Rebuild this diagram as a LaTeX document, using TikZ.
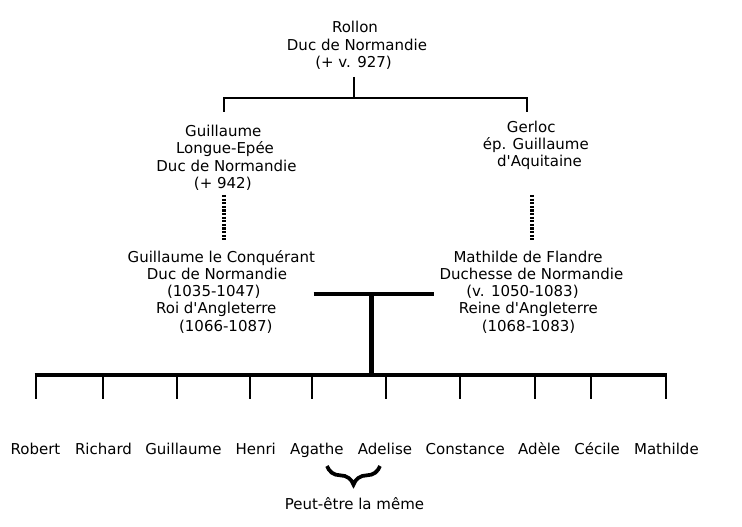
\documentclass[tikz,border=0pt]{standalone}
\usepackage{fontspec}
\setmainfont{DejaVu Sans}
\usetikzlibrary{decorations.pathreplacing}
\begin{document}
\begin{tikzpicture}[x=0.75pt,y=-0.75pt,
  lbl/.style={anchor=base,inner sep=0pt,font=\fontsize{11.25pt}{13pt}\selectfont},
  thin line/.style={line width=1.5pt},
  thick bar/.style={line width=3pt},
  dots line/.style={line width=2.4pt,dash pattern=on 1.7pt off 1pt}]
\useasboundingbox (0,0) rectangle (742,527);
% Rollon
\node[lbl] (r1) at (355,33) {Rollon};
\node[lbl] (r2) at (357,50.5) {Duc de Normandie};
\node[lbl] (r3) at (353.5,68) {(+ v. 927)};
% Guillaume Longue-Epee
\node[lbl] (g1) at (223.3,136.7) {Guillaume};
\node[lbl] (g2) at (225,154) {Longue-Epée};
\node[lbl] (g3) at (226.5,171.2) {Duc de Normandie};
\node[lbl] (g4) at (222.8,188.4) {(+ 942)};
% Gerloc
\node[lbl] (e1) at (531.2,132.3) {Gerloc};
\node[lbl] (e2) at (535.8,149.4) {ép. Guillaume};
\node[lbl] (e3) at (539.5,166.6) {d\textquotesingle Aquitaine};
% Guillaume le Conquerant
\node[lbl] (c1) at (221.3,262.3) {Guillaume le Conquérant};
\node[lbl] (c2) at (217,279.5) {Duc de Normandie};
\node[lbl] (c3) at (213.8,296.7) {(1035-1047)};
\node[lbl] (c4) at (216.2,313.9) {Roi d\textquotesingle Angleterre};
\node[lbl] (c5) at (225.8,331.1) {(1066-1087)};
% Mathilde
\node[lbl] (m1) at (528,262.3) {Mathilde de Flandre};
\node[lbl] (m2) at (531.5,279.5) {Duchesse de Normandie};
\node[lbl] (m3) at (522.5,296.7) {(v. 1050-1083)};
\node[lbl] (m4) at (528.3,313.9) {Reine d\textquotesingle Angleterre};
\node[lbl] (m5) at (528.5,331.1) {(1068-1083)};
% children
\node[lbl] (k1) at (35.5,454.3) {Robert};
\node[lbl] (k2) at (103.5,454.3) {Richard};
\node[lbl] (k3) at (183.4,454.3) {Guillaume};
\node[lbl] (k4) at (255.7,454.3) {Henri};
\node[lbl] (k5) at (316.8,454.3) {Agathe};
\node[lbl] (k6) at (385,454.3) {Adelise};
\node[lbl] (k7) at (465.2,454.3) {Constance};
\node[lbl] (k8) at (539.3,454.3) {Adèle};
\node[lbl] (k9) at (597.2,454.3) {Cécile};
\node[lbl] (k10) at (666.4,454.3) {Mathilde};
\node[lbl] (pm) at (354.5,509) {Peut-être la même};
% coordinates for connectors
\coordinate (rtop) at (354,77);
\coordinate (rj) at (354,98);
\coordinate (gl) at (224,98);
\coordinate (gr) at (527,98);
\coordinate (gld) at (224,112);
\coordinate (grd) at (527,112);
\coordinate (d1a) at (224,195);
\coordinate (d1b) at (224,241);
\coordinate (d2a) at (532,195);
\coordinate (d2b) at (532,241);
\coordinate (ml) at (313.5,293.5);
\coordinate (mr) at (433.5,293.5);
\coordinate (mc) at (371.5,293.5);
\coordinate (mb) at (371.5,375);
\coordinate (bl) at (34.5,375);
\coordinate (br) at (666.5,375);
% connectors
\draw[thin line] (rtop) -- (rj);
\draw[thin line] (gld) -- (gl) -- (gr) -- (grd);
\draw[dots line] (d1a) -- (d1b);
\draw[dots line] (d2a) -- (d2b);
\draw[thick bar] (ml) -- (mr);
\draw[line width=3.2pt] (mc) -- (mb);
\draw[line width=3.2pt] (bl) -- (br);
\foreach \x in {35.5,103.3,176.8,249.8,312.3,386.3,460.2,535,591,665.9}{
  \draw[thin line] (\x,375) -- (\x,398.5);
}
\coordinate (bra) at (327,466);
\coordinate (brb) at (380,466);
\draw[line width=2.8pt,decorate,decoration={brace,mirror,amplitude=14pt}] (bra) -- (brb);
\end{tikzpicture}
\end{document}
